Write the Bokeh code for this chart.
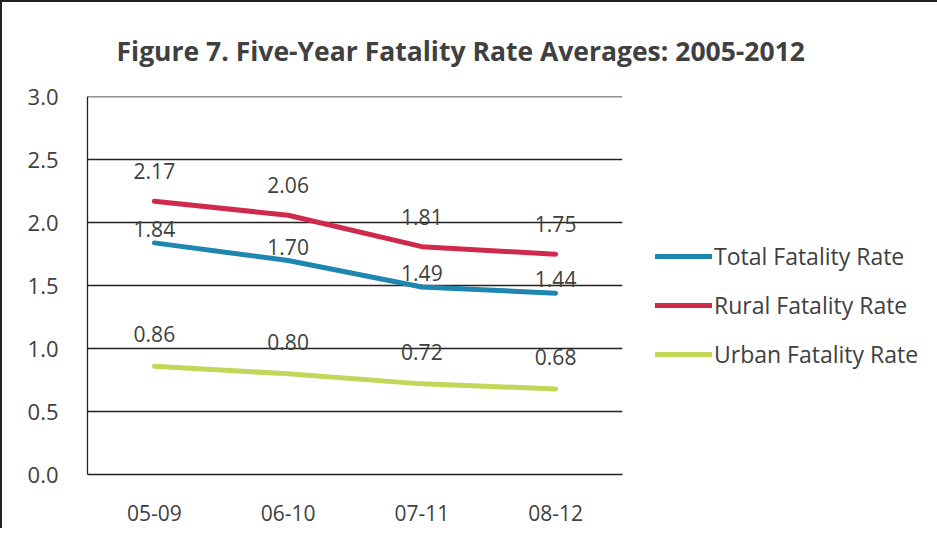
from bokeh.plotting import figure
from bokeh.models import ColumnDataSource, Legend, LegendItem, LabelSet, FixedTicker, NumeralTickFormatter, Range1d
from bokeh.core.properties import value
from bokeh.embed import file_html
from bokeh.resources import INLINE

periods = ["05-09", "06-10", "07-11", "08-12"]
total_rate = [1.84, 1.70, 1.49, 1.44]
rural_rate = [2.17, 2.06, 1.81, 1.75]
urban_rate = [0.86, 0.80, 0.72, 0.68]
y_ticks = [0.0, 0.5, 1.0, 1.5, 2.0, 2.5, 3.0]

FONT = "Open Sans"
TXT = "#404040"

p = figure(frame_width=535, frame_height=378, x_range=periods, y_range=Range1d(0, 3.003),
           output_backend="svg", toolbar_location=None,
           min_border_left=85, min_border_right=0, min_border_top=94, min_border_bottom=54)

p.title.text = "Figure 7. Five-Year Fatality Rate Averages: 2005-2012"
p.title.text_font = FONT
p.title.text_font_style = "bold"
p.title.text_font_size = "26.5px"
p.title.text_color = TXT
p.title.align = "left"
p.title.offset = 29
p.title.standoff = 55

p.outline_line_color = None
p.background_fill_color = "white"
p.border_fill_color = "white"
p.styles = {"border-left": "2px solid #222222", "border-top": "2px solid #222222"}

p.xgrid.grid_line_color = None
p.ygrid.grid_line_color = "#222222"
p.ygrid.grid_line_width = 1.3
p.yaxis.ticker = FixedTicker(ticks=y_ticks)
p.yaxis.formatter = NumeralTickFormatter(format="0.0")
for ax in (p.xaxis, p.yaxis):
    ax.major_tick_line_color = None
    ax.minor_tick_line_color = None
    ax.axis_line_color = "#222222"
    ax.axis_line_width = 1.3
    ax.major_label_text_font = FONT
    ax.major_label_text_font_size = "21px"
    ax.major_label_text_color = TXT
p.yaxis.major_label_text_font_size = "22px"
p.yaxis.major_label_standoff = 23
p.xaxis.major_label_standoff = 24

src = ColumnDataSource(dict(x=periods, total=total_rate, rural=rural_rate, urban=urban_rate,
                            total_t=[f"{v:.2f}" for v in total_rate],
                            rural_t=[f"{v:.2f}" for v in rural_rate],
                            urban_t=[f"{v:.2f}" for v in urban_rate]))

series = [("total", "Total Fatality Rate", "#1f86b0", 14),
          ("rural", "Rural Fatality Rate", "#cf2a4c", 30),
          ("urban", "Urban Fatality Rate", "#c2d65a", 32)]
items = []
for key, name, color, off in series:
    r = p.line("x", key, source=src, line_color=color, line_width=5, line_cap="round")
    items.append(LegendItem(label=name, renderers=[r]))
    labels = LabelSet(x="x", y=key, text=key + "_t", source=src, y_offset=off,
                      text_align="center", text_baseline="middle",
                      text_font=value(FONT), text_font_size="21px", text_color=TXT)
    p.add_layout(labels)

legend = Legend(items=items, location=(33, 104), orientation="vertical")
legend.background_fill_alpha = 0
legend.border_line_color = None
legend.padding = 0
legend.margin = 0
legend.glyph_width = 57
legend.glyph_height = 30
legend.spacing = 17
legend.label_standoff = 2
legend.label_text_font = FONT
legend.label_text_font_size = "23px"
legend.label_text_color = TXT
p.add_layout(legend, "right")

open("out.html", "w").write(file_html(p, INLINE))
